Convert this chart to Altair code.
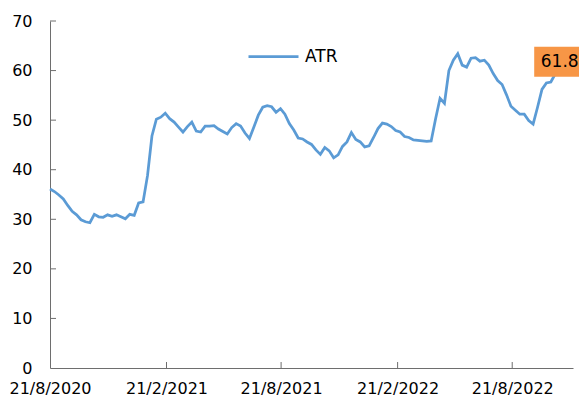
import altair as alt
import pandas as pd

# Weekly ATR readings, starting 21/8/2020
start_date = "2020-08-21"
atr_values = [36.1, 35.6, 34.9, 34.1, 32.8, 31.6, 30.9, 29.9, 29.5, 29.3,
              31.0, 30.5, 30.4, 30.9, 30.6, 30.9, 30.5, 30.1, 31.0, 30.8,
              33.3, 33.5, 38.8, 46.8, 50.2, 50.6, 51.4, 50.3, 49.6, 48.6,
              47.6, 48.7, 49.6, 47.8, 47.6, 48.8, 48.8, 48.9, 48.2, 47.7,
              47.2, 48.5, 49.3, 48.8, 47.4, 46.3, 48.6, 51.0, 52.6, 52.9,
              52.7, 51.6, 52.3, 51.2, 49.3, 48.0, 46.4, 46.2, 45.6, 45.1,
              44.0, 43.1, 44.5, 43.8, 42.4, 43.0, 44.7, 45.6, 47.5, 46.1,
              45.6, 44.6, 44.8, 46.5, 48.3, 49.4, 49.2, 48.7, 47.9, 47.6,
              46.7, 46.5, 46.0, 45.9, 45.8, 45.7, 45.8, 50.3, 54.4, 53.4,
              60.0, 62.1, 63.4, 61.1, 60.7, 62.5, 62.6, 61.9, 62.1, 61.1,
              59.4, 58.0, 57.2, 55.1, 52.8, 52.0, 51.2, 51.2, 49.9, 49.2,
              52.6, 56.2, 57.5, 57.7, 59.3, 61.8]
series_name = "ATR"
x_tick_dates = ["2020-08-21", "2021-02-21", "2021-08-21", "2022-02-21", "2022-08-21"]
y_tick_values = [10, 20, 30, 40, 50, 60, 70]
last_label = "61.8"

dates = pd.date_range(start_date, periods=len(atr_values), freq="7D").strftime("%Y-%m-%d")
df = pd.DataFrame({"date": dates, "v": atr_values, "series": series_name})
last_df = df.tail(1).assign(label=last_label)
xt_df = pd.DataFrame({"date": x_tick_dates[1:]})
yt_df = pd.DataFrame({"v": y_tick_values})

FONT = "DejaVu Sans"
AXIS_COLOR = "#6e6e6e"

def dt(s):
    y, m, d = map(int, s.split("-"))
    return alt.DateTime(year=y, month=m, date=d, utc=True)

x_enc = alt.X("date:T",
              scale=alt.Scale(type="utc", domain=[dt("2020-08-21"), dt("2022-11-25")], nice=False),
              axis=alt.Axis(values=[dt(s) for s in x_tick_dates], format="%-d/%-m/%Y",
                            title=None, grid=False, ticks=False, labelPadding=12,
                            labelFont=FONT, labelFontSize=16, labelColor="#000000",
                            domainColor=AXIS_COLOR, labelFlush=False))
y_enc = alt.Y("v:Q",
              scale=alt.Scale(domain=[0, 70], nice=False),
              axis=alt.Axis(values=[0] + y_tick_values, title=None, grid=False, ticks=False,
                            labelPadding=18, labelFont=FONT, labelFontSize=16,
                            labelColor="#000000", domainColor=AXIS_COLOR))

line = alt.Chart(df).mark_line(strokeWidth=2.75).encode(
    x=x_enc, y=y_enc,
    color=alt.Color("series:N",
                    scale=alt.Scale(range=["#5B9BD5"]),
                    legend=alt.Legend(title=None, orient="none", legendX=197, legendY=9,
                                      symbolType="stroke", symbolSize=2500,
                                      symbolStrokeWidth=2.75, labelFont=FONT,
                                      labelFontSize=17, labelColor="#000000",
                                      labelOffset=5, padding=0)),
)

xticks = alt.Chart(xt_df).mark_rule(color=AXIS_COLOR, strokeWidth=1).encode(
    x="date:T", y=alt.value(347), y2=alt.value(341))
yticks = alt.Chart(yt_df).mark_rule(color=AXIS_COLOR, strokeWidth=1).encode(
    y="v:Q", x=alt.value(0), x2=alt.value(6))

box = alt.Chart(last_df).mark_point(
    shape="M-1,-0.588H1V0.588H-1Z", filled=True, fill="#F79646", stroke=None,
    opacity=1, size=2601, dx=2).encode(x="date:T", y="v:Q")
label = alt.Chart(last_df).mark_text(
    font=FONT, fontSize=17, color="#000000", align="center", baseline="middle", dx=0
).encode(x="date:T", y="v:Q", text="label:N")

chart = alt.layer(line, xticks, yticks, box, label).properties(
    width=523, height=347,
    autosize=alt.AutoSizeParams(type="none"),
    padding={"left": 42, "top": 13, "right": 6, "bottom": 31},
).configure_view(stroke=None)

chart.save("out.html", embed_options={"renderer": "svg", "actions": False})
